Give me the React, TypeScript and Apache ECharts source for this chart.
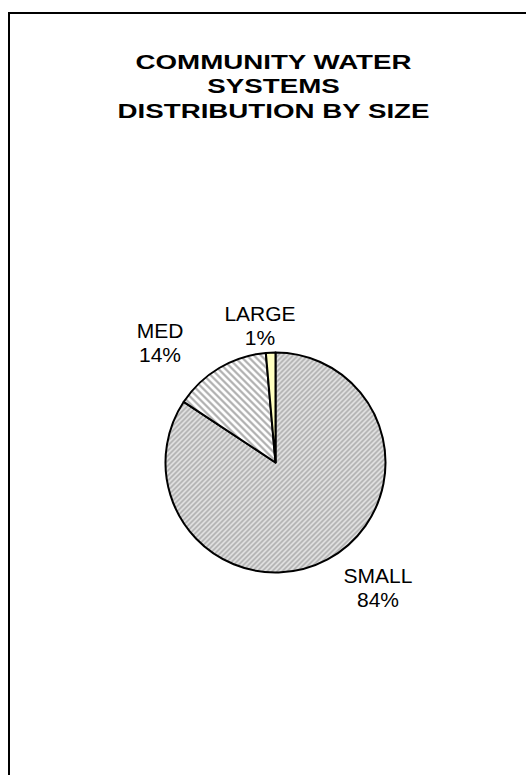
import React, { useEffect, useRef } from 'react';
import * as echarts from 'echarts';

const TITLE_LINES = ['COMMUNITY WATER', 'SYSTEMS', 'DISTRIBUTION BY SIZE'];
const CATEGORIES = ['SMALL', 'MED', 'LARGE'];
const VALUES = [84.3, 14.3, 1.4];

// label block centres (layout only)
const LABEL_CENTERS: number[][] = [
  [378, 587],
  [160, 342],
  [260, 325],
];

// diagonal stripe tile: dir 1 => "/" stripes, dir -1 => "\" stripes
function stripeTile(period: number, dark: number, light: number, dir: number, bias: number) {
  const c = document.createElement('canvas');
  c.width = period;
  c.height = period;
  const ctx = c.getContext('2d')!;
  const img = ctx.createImageData(period, period);
  for (let y = 0; y < period; y++) {
    for (let x = 0; x < period; x++) {
      const k = dir > 0 ? x + y : x - y + period * 4;
      const t = (k % period) / period;
      let s = 0.5 + 0.5 * Math.cos(2 * Math.PI * t);
      s = Math.min(1, Math.max(0, s + bias));
      const v = Math.round(dark + (light - dark) * s);
      const i = (y * period + x) * 4;
      img.data[i] = v;
      img.data[i + 1] = v;
      img.data[i + 2] = v;
      img.data[i + 3] = 255;
    }
  }
  ctx.putImageData(img, 0, 0);
  return c;
}

export default function App() {
  const ref = useRef<HTMLDivElement>(null);

  useEffect(() => {
    const chart = echarts.init(ref.current!, null, { renderer: 'svg' });

    const smallTile = stripeTile(5, 178, 226, 1, 0);
    const medTile = stripeTile(7, 160, 255, -1, 0.15);

    const itemStyles: any[] = [
      {
        color: { image: smallTile, repeat: 'repeat' },
        borderColor: '#000',
        borderWidth: 2,
      },
      {
        color: { image: medTile, repeat: 'repeat' },
        borderColor: '#000',
        borderWidth: 2,
      },
      {
        color: '#ffffc0',
        borderColor: '#000',
        borderWidth: 2,
      },
    ];

    chart.setOption({
      animation: false,
      backgroundColor: '#ffffff',
      graphic: [
        {
          type: 'rect',
          silent: true,
          z: 0,
          shape: { x: 9, y: 13, width: 700, height: 900 },
          style: { fill: 'none', stroke: '#000', lineWidth: 2 },
        },
        {
          type: 'text',
          silent: true,
          x: 273.5,
          y: 86,
          scaleX: 1.32,
          style: {
            text: TITLE_LINES.join('\n'),
            fontFamily: '"Liberation Sans", Arial, sans-serif',
            fontSize: 21,
            fontWeight: 'bold',
            lineHeight: 24.5,
            align: 'center',
            verticalAlign: 'middle',
            fill: '#000',
          },
        },
      ],
      series: [
        {
          type: 'pie',
          silent: true,
          center: [275.5, 462.5],
          radius: 110,
          startAngle: 90,
          clockwise: true,
          avoidLabelOverlap: false,
          data: CATEGORIES.map((name, i) => ({
            name,
            value: VALUES[i],
            itemStyle: itemStyles[i],
          })),
          label: {
            show: true,
            position: 'outside',
            formatter: (p: any) => `${p.name}\n${Math.round(p.percent)}%`,
            fontFamily: '"Liberation Sans", Arial, sans-serif',
            fontSize: 21,
            lineHeight: 24,
            color: '#000',
            align: 'center',
          },
          labelLine: { show: false },
          labelLayout: (params: any) => {
            const c = LABEL_CENTERS[params.dataIndex];
            return { x: c[0], y: c[1], align: 'center', verticalAlign: 'middle' };
          },
          emphasis: { disabled: true },
        },
      ],
    });

    return () => chart.dispose();
  }, []);

  return (
    <div
      ref={ref}
      style={{ position: 'fixed', left: 0, top: 0, width: 526, height: 775 }}
    />
  );
}
